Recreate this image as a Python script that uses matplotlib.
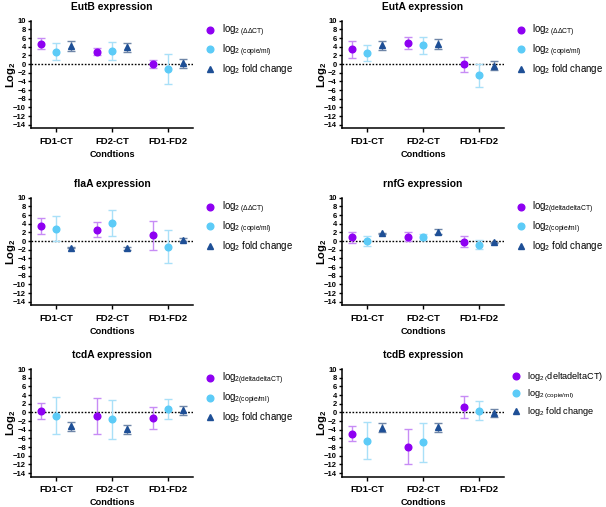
import matplotlib
matplotlib.use("Agg")
import matplotlib.pyplot as plt
import numpy as np

plt.rcParams['font.family'] = ['Liberation Sans', 'DejaVu Sans']
plt.rcParams['mathtext.fontset'] = 'custom'
plt.rcParams['mathtext.rm'] = 'Liberation Sans'
plt.rcParams['mathtext.it'] = 'Liberation Sans:italic'
plt.rcParams['mathtext.bf'] = 'Liberation Sans:bold'

conditions = ['FD1-CT', 'FD2-CT', 'FD1-FD2']

genes = ['EutB', 'EutA', 'flaA', 'rnfG', 'tcdA', 'tcdB']

# mean / error per series: ddCT, copies/ml, fold change
eutb_ddct = [4.7, 2.9, 0.0]
eutb_ddct_err = [1.3, 0.9, 0.9]
eutb_copies = [2.9, 3.1, -1.15]
eutb_copies_err = [2.0, 2.1, 3.5]
eutb_fold = [4.2, 3.9, 0.2]
eutb_fold_err = [1.1, 1.0, 1.05]

euta_ddct = [3.4, 4.8, 0.0]
euta_ddct_err = [2.05, 1.35, 1.75]
euta_copies = [2.6, 4.3, -2.6]
euta_copies_err = [1.8, 1.9, 2.6]
euta_fold = [4.3, 4.6, -0.35]
euta_fold_err = [1.0, 1.1, 1.0]

flaa_ddct = [3.55, 2.6, 1.3]
flaa_ddct_err = [1.85, 1.7, 3.4]
flaa_copies = [2.9, 4.25, -1.3]
flaa_copies_err = [2.95, 3.0, 3.8]
flaa_fold = [-1.5, -1.7, 0.3]
flaa_fold_err = [0.15, 0.3, 0.3]

rnfg_ddct = [0.85, 1.0, -0.15]
rnfg_ddct_err = [1.3, 1.0, 1.3]
rnfg_copies = [0.0, 0.85, -0.8]
rnfg_copies_err = [1.2, 0.7, 1.0]
rnfg_fold = [1.75, 2.2, -0.3]
rnfg_fold_err = [0.2, 0.5, 0.2]

tcda_ddct = [0.4, -0.85, -1.3]
tcda_ddct_err = [1.8, 4.1, 2.55]
tcda_copies = [-0.8, -1.55, 0.8]
tcda_copies_err = [4.25, 4.5, 2.2]
tcda_fold = [-3.2, -3.9, 0.5]
tcda_fold_err = [1.0, 1.1, 1.0]

tcdb_ddct = [-4.9, -7.9, 1.25]
tcdb_ddct_err = [1.8, 4.05, 2.6]
tcdb_copies = [-6.5, -6.9, 0.4]
tcdb_copies_err = [4.3, 4.5, 2.25]
tcdb_fold = [-3.5, -3.45, -0.2]
tcdb_fold_err = [0.95, 0.95, 0.9]

data = {
    'EutB': (eutb_ddct, eutb_ddct_err, eutb_copies, eutb_copies_err, eutb_fold, eutb_fold_err),
    'EutA': (euta_ddct, euta_ddct_err, euta_copies, euta_copies_err, euta_fold, euta_fold_err),
    'flaA': (flaa_ddct, flaa_ddct_err, flaa_copies, flaa_copies_err, flaa_fold, flaa_fold_err),
    'rnfG': (rnfg_ddct, rnfg_ddct_err, rnfg_copies, rnfg_copies_err, rnfg_fold, rnfg_fold_err),
    'tcdA': (tcda_ddct, tcda_ddct_err, tcda_copies, tcda_copies_err, tcda_fold, tcda_fold_err),
    'tcdB': (tcdb_ddct, tcdb_ddct_err, tcdb_copies, tcdb_copies_err, tcdb_fold, tcdb_fold_err),
}

lbl_delta = r'log$_{2\ (\Delta\Delta\mathrm{CT})}$'
lbl_dd = r'log$_{2(\mathrm{deltadeltaCT})}$'
lbl_dd6 = r'log$_{2\ (}$deltadeltaCT)'
lbl_cop = r'log$_{2\ (\mathrm{copie/ml})}$'
lbl_cop2 = r'log$_{2(\mathrm{copie/ml})}$'
lbl_fold = r'log$_2$ fold change'

labels = {
    'EutB': (lbl_delta, lbl_cop),
    'EutA': (lbl_delta, lbl_cop),
    'flaA': (lbl_delta, lbl_cop),
    'rnfG': (lbl_dd, lbl_cop2),
    'tcdA': (lbl_dd, lbl_cop2),
    'tcdB': (lbl_dd6, lbl_cop),
}

purple = '#8E00F2'
purple_err = '#C78CF5'
cyan = '#5CCBF7'
cyan_err = '#A9E0F8'
navy = '#1E4F96'
navy_err = '#6F86A8'

fig = plt.figure(figsize=(6.06, 5.07), dpi=100)

lefts = [0.051, 0.564]
bottoms = [0.747, 0.398, 0.060]
w, h = 0.268, 0.212

x = np.arange(len(conditions))
off = 0.27

for i, g in enumerate(genes):
    ax = fig.add_axes([lefts[i % 2], bottoms[i // 2], w, h])
    dd, dde, cp, cpe, fc, fce = data[g]
    l1, l2 = labels[g]

    ax.axhline(0, color='black', ls=(0, (1.2, 1.2)), lw=1.0, zorder=1)

    ax.errorbar(x - off, dd, yerr=dde, fmt='none', ecolor=purple_err, elinewidth=1.0, capsize=3, capthick=1.0, zorder=2)
    ax.plot(x - off, dd, 'o', color=purple, ms=4.8, label=l1, zorder=3)
    ax.errorbar(x, cp, yerr=cpe, fmt='none', ecolor=cyan_err, elinewidth=1.0, capsize=3, capthick=1.0, zorder=2)
    ax.plot(x, cp, 'o', color=cyan, ms=4.8, label=l2, zorder=3)
    ax.errorbar(x + off, fc, yerr=fce, fmt='none', ecolor=navy_err, elinewidth=1.0, capsize=3, capthick=1.0, zorder=2)
    ax.plot(x + off, fc, '^', color=navy, ms=4.2, label=lbl_fold, zorder=3)

    ax.set_xlim(-0.45, 2.45)
    ax.set_ylim(-14.8, 10)
    ax.set_yticks(np.arange(-14, 11, 2))
    ax.set_xticks(x)
    ax.set_xticklabels(conditions, fontsize=6.8, fontweight='bold')
    for t in ax.get_yticklabels():
        t.set_fontsize(5.5)
        t.set_fontweight('bold')
    ax.tick_params(axis='y', length=2.5, width=1, pad=1)
    ax.tick_params(axis='x', length=3, width=1, pad=3)
    ax.spines['top'].set_visible(False)
    ax.spines['right'].set_visible(False)
    ax.spines['left'].set_linewidth(1.1)
    ax.spines['bottom'].set_linewidth(1.1)

    ax.set_title(g + ' expression', fontsize=7.4, fontweight='bold', pad=8)
    ax.set_xlabel('Condtions', fontsize=6.6, fontweight='bold', labelpad=3)
    ax.set_ylabel(r'$\mathbf{Log_2}$', fontsize=8)
    ax.yaxis.set_label_coords(-0.08, 0.5)

    if g == 'tcdB':
        fs, ax_x, sp = 6.6, 1.02, 0.45
    else:
        fs, ax_x, sp = 6.9, 1.05, 0.35
    ax.legend(loc='upper left', bbox_to_anchor=(ax_x, 1.02), frameon=False,
              fontsize=fs, handlelength=1.0, handletextpad=0.7, labelspacing=sp,
              borderaxespad=0)

fig.savefig('out.png', dpi=100)
